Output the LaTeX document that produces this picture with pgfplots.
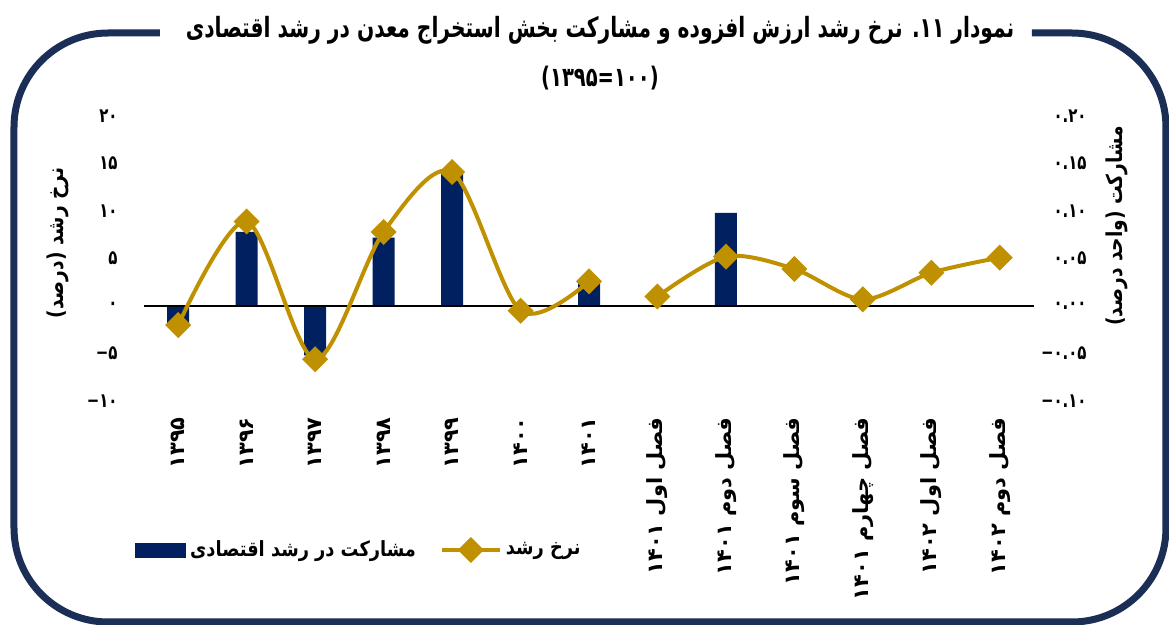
\documentclass[border=0pt]{standalone}
\usepackage{fontspec}
\usepackage{pgfplots}
\pgfplotsset{compat=1.18}
\TeXXeTstate=1
\newfontfamily\fa[Script=Arabic, FakeStretch=0.85]{DejaVu Sans}
\newfontfamily\fat[Script=Arabic, FakeStretch=0.725]{DejaVu Sans}
\newfontfamily\fab[Script=Arabic]{DejaVu Sans}
\newfontfamily\fan[Script=Arabic, FakeStretch=0.75]{DejaVu Sans}
\definecolor{barnavy}{RGB}{0,32,96}
\definecolor{gold}{RGB}{191,144,0}
\definecolor{framec}{RGB}{26,46,86}
\pgfplotsset{mylinelegend/.style={legend image code/.code={\draw[mark repeat=2,mark phase=2,##1] plot coordinates {(0bp,0bp) (14.5bp,0bp) (29bp,0bp)};}}}

\pgfplotstableread{
x y
0 -0.018
1 0.078
2 -0.052
3 0.072
4 0.141
5 0.0
6 0.025
7 0.0
8 0.098
9 0.0
10 0.0
11 0.0
12 0.0
}\contrib

\pgfplotstableread{
x y
0 -2.0
1 8.9
2 -5.6
3 7.8
4 14.1
5 -0.5
6 2.6
}\growthA

\pgfplotstableread{
x y
7 1.0
8 5.2
9 3.9
10 0.7
11 3.5
12 5.1
}\growthB

\begin{document}
\begin{tikzpicture}
\useasboundingbox (0,0) rectangle (584.5bp,-312.5bp);
\begin{scope}[x=0.5bp,y=-0.5bp]
\draw[framec, line width=3.5bp, rounded corners=47bp] (160,33) -- (14,33) -- (14,622) -- (1166,622) -- (1166,33) -- (1032,33);
\node[font=\fontsize{14}{16}\fat\bfseries] at (600,30) {\beginR نمودار ۱۱. نرخ رشد ارزش افزوده و مشارکت بخش استخراج معدن در رشد اقتصادی\endR};
\node[font=\fontsize{13.5}{15}\fat\bfseries] at (600,78) {(۱۰۰=۱۳۹۵)};
\node[rotate=90, font=\fontsize{11}{13}\fa\bfseries] at (58,243) {\beginR نرخ رشد (درصد)\endR};
\node[rotate=90, font=\fontsize{11}{13}\fa\bfseries] at (1117,226) {\beginR مشارکت (واحد درصد)\endR};
\end{scope}

% bars, right axis
\begin{axis}[
  at={(72bp,-200.5bp)}, anchor=south west,
  scale only axis, width=445bp, height=142.5bp,
  xmin=-0.5, xmax=12.5, ymin=-0.10, ymax=0.20,
  hide x axis,
  axis y line*=right,
  y axis line style={draw=none},
  major tick length=0pt,
  ytick={-0.10,-0.05,0,0.05,0.10,0.15,0.20},
  yticklabels={۰.۱۰−,۰.۰۵−,۰.۰۰,۰.۰۵,۰.۱۰,۰.۱۵,۰.۲۰},
  yticklabel style={anchor=east, inner sep=0pt, xshift=26.5bp, font=\fontsize{10}{12}\fan\bfseries},
  clip=false,
]
\addplot[ybar, bar width=11bp, fill=barnavy, draw=none] table[x=x,y=y] {\contrib};
\end{axis}

% line, left axis
\begin{axis}[
  at={(72bp,-200.5bp)}, anchor=south west,
  scale only axis, width=445bp, height=142.5bp,
  xmin=-0.5, xmax=12.5, ymin=-10, ymax=20,
  axis x line*=bottom, axis y line*=left,
  axis line style={draw=none},
  major tick length=0pt,
  ytick={-10,-5,0,5,10,15,20},
  yticklabels={۱۰−,۵−,۰,۵,۱۰,۱۵,۲۰},
  yticklabel style={anchor=east, inner sep=0pt, xshift=-13bp, font=\fontsize{10}{12}\fan\bfseries},
  xtick={0,...,12},
  xticklabels={۱۳۹۵,۱۳۹۶,۱۳۹۷,۱۳۹۸,۱۳۹۹,۱۴۰۰,۱۴۰۱,
    {\beginR فصل اول \beginL۱۴۰۱\endL\endR},{\beginR فصل دوم \beginL۱۴۰۱\endL\endR},{\beginR فصل سوم \beginL۱۴۰۱\endL\endR},
    {\beginR فصل چهارم \beginL۱۴۰۱\endL\endR},{\beginR فصل اول \beginL۱۴۰۲\endL\endR},{\beginR فصل دوم \beginL۱۴۰۲\endL\endR}},
  xticklabel style={yshift=-8bp, rotate=90, anchor=east, inner sep=0pt, font=\fontsize{10.5}{12}\fab\bfseries},
  clip=false,
  legend columns=2,
  legend style={at={(-0.0101,-0.523)}, anchor=west, draw=none, fill=none, inner sep=0pt,
    font=\fontsize{10.5}{12}\fa\bfseries, /tikz/every even column/.append style={column sep=10bp}},
  legend cell align=left,
]
\draw[black, line width=1bp] (axis cs:-0.5,0) -- (axis cs:12.5,0);
\addlegendimage{legend image code/.code={\fill[barnavy] (0bp,-3.5bp) rectangle (25bp,3.5bp);}}
\addlegendentry{\beginR مشارکت در رشد اقتصادی\endR}
\addplot[gold, line width=2bp, smooth, mark=square*, mark size=3.6bp, mark options={rotate=45, solid}, mylinelegend] table[x=x,y=y] {\growthA};
\addlegendentry{\beginR نرخ رشد\endR}
\addplot[gold, line width=2bp, smooth, mark=square*, mark size=3.6bp, mark options={rotate=45, solid}, forget plot] table[x=x,y=y] {\growthB};
\end{axis}
\end{tikzpicture}
\end{document}
